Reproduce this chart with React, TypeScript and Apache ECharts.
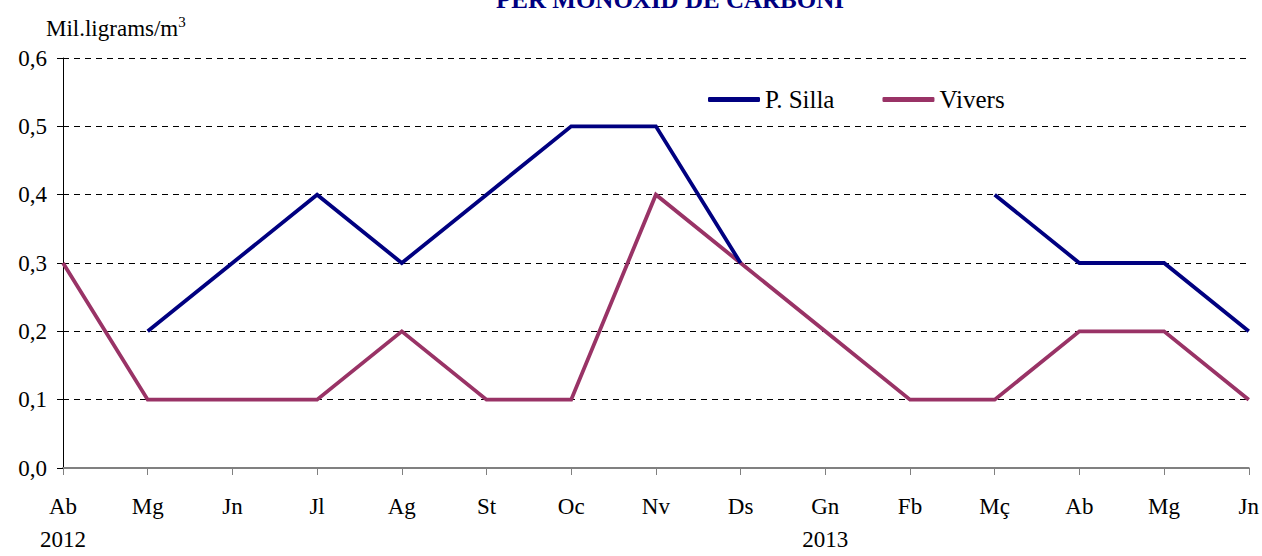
import React, { useEffect, useRef } from "react";
import * as echarts from "echarts";

const months = ["Ab", "Mg", "Jn", "Jl", "Ag", "St", "Oc", "Nv", "Ds", "Gn", "Fb", "Mç", "Ab", "Mg", "Jn"];
const years = ["2012", "", "", "", "", "", "", "", "", "2013", "", "", "", "", ""];
const pSilla: (number | null)[] = [null, 0.2, 0.3, 0.4, 0.3, 0.4, 0.5, 0.5, 0.3, null, null, 0.4, 0.3, 0.3, 0.2];
const vivers: (number | null)[] = [0.3, 0.1, 0.1, 0.1, 0.2, 0.1, 0.1, 0.4, 0.3, 0.2, 0.1, 0.1, 0.2, 0.2, 0.1];
const yTicks = { min: 0, max: 0.6, interval: 0.1 };

const FONT = "Liberation Serif";

export default function App() {
  const ref = useRef<HTMLDivElement>(null);
  useEffect(() => {
    if (!ref.current) return;
    const chart = echarts.init(ref.current, null, { renderer: "svg" });
    chart.setOption({
      animation: false,
      backgroundColor: "#ffffff",
      textStyle: { fontFamily: FONT },
      title: {
        text: "PER MONOXID DE CARBONI",
        left: 665,
        top: -18,
        textAlign: "center",
        textStyle: { fontFamily: FONT, fontSize: 25, fontWeight: "bold", color: "#000080" },
      },
      graphic: [
        {
          type: "text",
          left: 46,
          top: 14,
          style: {
            text: "{a|Mil.ligrams/m}{s|3}",
            fontFamily: FONT,
            fontSize: 23,
            fill: "#000",
            rich: {
              a: { fontFamily: FONT, fontSize: 23, fill: "#000", verticalAlign: "bottom", lineHeight: 26 },
              s: { fontFamily: FONT, fontSize: 15, fill: "#000", verticalAlign: "top", lineHeight: 26 },
            },
          },
        },
      ],
      legend: {
        left: 703,
        top: 82,
        itemWidth: 52,
        itemHeight: 5,
        itemGap: 48,
        icon: "roundRect",
        textStyle: { fontFamily: FONT, fontSize: 25, color: "#000" },
        data: ["P. Silla", "Vivers"],
      },
      grid: { left: 63, right: 12, top: 58, bottom: 80, containLabel: false },
      xAxis: {
        type: "category",
        data: months,
        boundaryGap: false,
        axisLine: { lineStyle: { color: "#808080", width: 2 } },
        axisTick: { show: true, length: 7, lineStyle: { color: "#808080", width: 1 }, interval: 0 },
        axisLabel: {
          interval: 0,
          margin: 22,
          fontFamily: FONT,
          fontSize: 23,
          color: "#000",
          lineHeight: 33,
          formatter: (v: string, i: number) => (years[i] ? v + "\n" + years[i] : v),
        },
        splitLine: { show: false },
      },
      yAxis: {
        type: "value",
        min: yTicks.min,
        max: yTicks.max,
        interval: yTicks.interval,
        axisLine: { show: true, lineStyle: { color: "#000", width: 1 } },
        axisTick: { show: true, length: 6, lineStyle: { color: "#000" } },
        axisLabel: {
          margin: 16,
          fontFamily: FONT,
          fontSize: 23,
          color: "#000",
          formatter: (v: number) => v.toFixed(1).replace(".", ","),
        },
        splitLine: { show: true, lineStyle: { color: "#000", width: 1, type: [6, 5] } },
      },
      series: [
        {
          name: "P. Silla",
          type: "line",
          data: pSilla,
          symbol: "none",
          connectNulls: false,
          lineStyle: { color: "#000080", width: 3.8, join: "miter" },
          itemStyle: { color: "#000080" },
          z: 3,
        },
        {
          name: "Vivers",
          type: "line",
          data: vivers,
          symbol: "none",
          lineStyle: { color: "#993366", width: 3.8, join: "miter" },
          itemStyle: { color: "#993366" },
          z: 2,
        },
      ],
    });
    return () => chart.dispose();
  }, []);
  return <div ref={ref} style={{ position: "fixed", left: 0, top: 0, width: 1262, height: 556 }} />;
}
